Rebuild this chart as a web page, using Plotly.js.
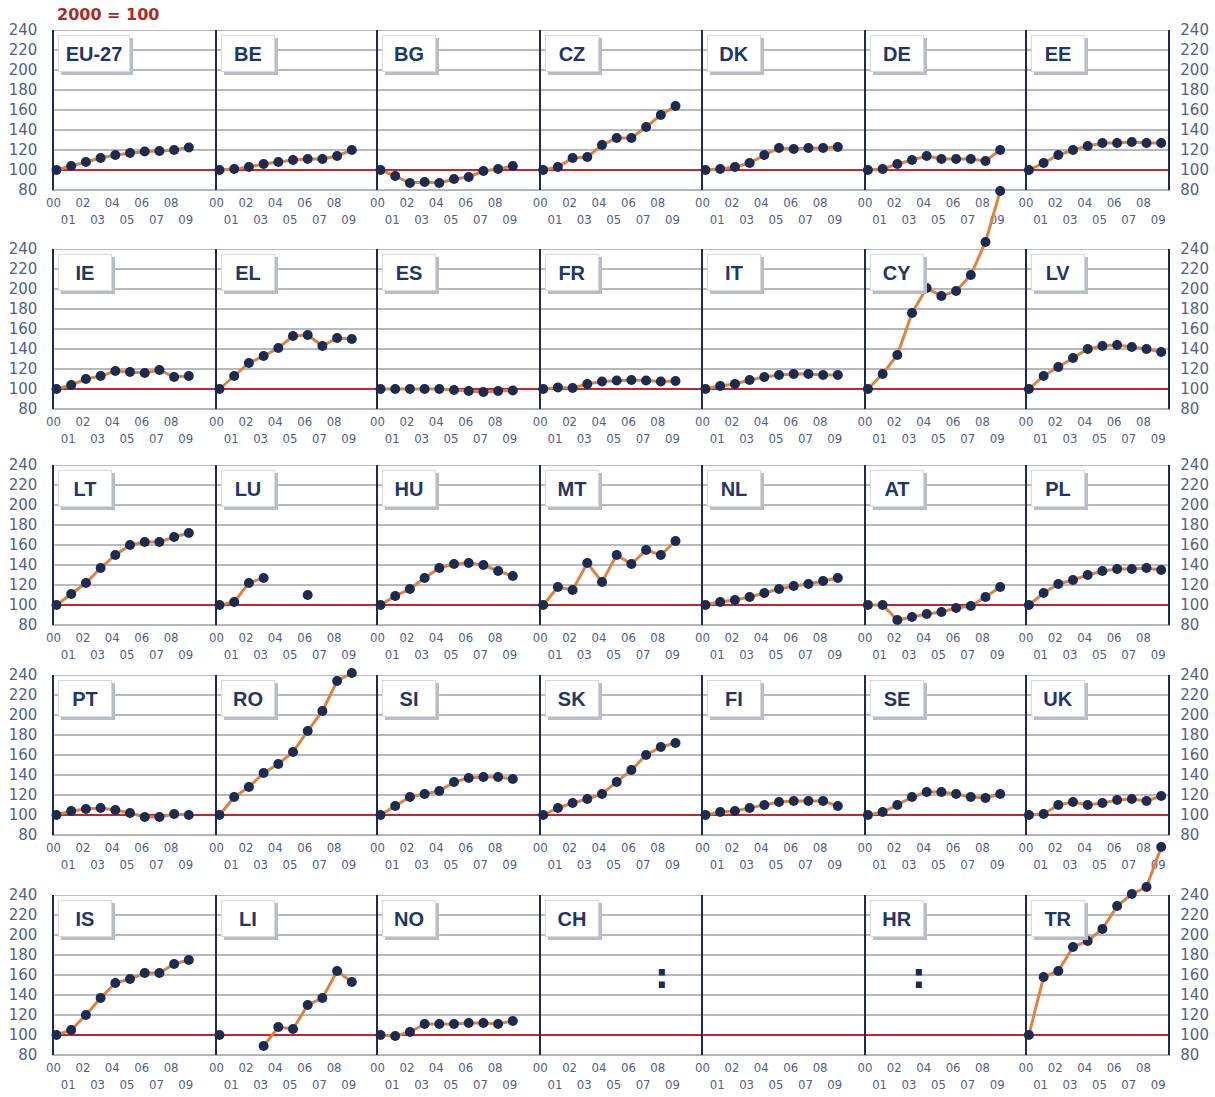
<!DOCTYPE html>
<html>
<head>
<meta charset="utf-8">
<script src="https://cdn.plot.ly/plotly-3.0.1.min.js"></script>
<style>html,body{margin:0;padding:0;background:#fff;}#chart{width:1215px;height:1097px;}</style>
</head>
<body>
<div id="chart"></div>
<script>
// ---------------- DATA ----------------
const years = [2000, 2001, 2002, 2003, 2004, 2005, 2006, 2007, 2008, 2009];
const yearLabels = ['00', '01', '02', '03', '04', '05', '06', '07', '08', '09'];
const yTicks = [80, 100, 120, 140, 160, 180, 200, 220, 240];
const baseValue = 100;

const EU27 = [100, 104, 108, 112, 115, 117, 118.5, 119, 120, 122.5];
const BE = [100, 101, 103, 106, 108, 110, 111, 111, 114, 120];
const BG = [100, 94, 87, 88, 87, 91, 93, 99, 101, 104];
const CZ = [100, 103, 112, 113, 125, 132, 132, 143, 155, 164];
const DK = [100, 101, 103, 107, 115, 122, 121, 122, 122, 123];
const DE = [100, 101, 106, 110, 114, 111, 111, 111, 109, 120];
const EE = [100, 107, 115, 120, 124, 127, 127, 128, 127, 127];

const IE = [100, 104, 110, 113, 118, 117, 116, 119, 112, 113];
const EL = [100, 113, 126, 133, 141, 153, 154, 143, 151, 150];
const ES = [100, 100, 100, 100, 100, 99, 98, 97, 98, 98.5];
const FR = [100, 101.5, 101, 105, 107.5, 108.5, 109, 108.5, 107.5, 108];
const IT = [100, 103, 105, 109, 112, 114, 115, 115, 114, 114];
const CY = [100, 115, 134, 176, 201, 193, 198, 214, 247, 298];
const LV = [100, 113, 122, 131, 140, 143, 144, 142, 140, 137];

const LT = [100, 111, 122, 137, 150, 160, 163, 163, 168, 172];
const LU = [100, 103, 122, 127, null, null, 110, null, null, null];
const HU = [100, 109, 116, 127, 137, 141, 142, 140, 134, 129];
const MT = [100, 118, 115, 142, 123, 150, 141, 155, 150, 164];
const NL = [100, 103, 105, 108, 112, 116, 119, 121, 124, 127];
const AT = [100, 100, 85, 88, 91, 93, 97, 99, 108, 118];
const PL = [100, 112, 121, 125, 130, 134, 136, 136, 137, 135];

const PT = [100, 104, 106, 107, 105, 102, 98, 98, 101, 100];
const RO = [100, 118, 128, 142, 151, 163, 184, 204, 234, 242];
const SI = [100, 109, 118, 121, 124, 133, 137, 138, 138, 136];
const SK = [100, 107, 112, 116, 121, 133, 145, 160, 168, 172];
const FI = [100, 103, 104, 107, 110, 113, 114, 114, 114, 109];
const SE = [100, 103, 110, 118, 123, 123, 121, 118, 117, 121];
const UK = [100, 101, 110, 113, 110, 112, 115, 116, 114, 119];

const IS = [100, 105, 120, 137, 152, 156, 162, 162, 171, 175];
const LI = [100, null, null, 89, 108, 106, 130, 137, 164, 153];
const NO = [100, 99, 103, 111, 111, 111, 112, 112, 111, 114];
const CH = [null, null, null, null, null, null, null, null, null, null];
const HR = [null, null, null, null, null, null, null, null, null, null];
const TR = [100, 158, 164, 188, 194, 206, 229, 241, 248, 288];

// ":" = data not available (where the mark sits in the picture)
const notAvailable = [
  {label: 'CH', year: 2008.1, value: 159},
  {label: 'HR', year: 2003.5, value: 159}
];

const panelLabels = ['EU-27','BE','BG','CZ','DK','DE','EE',
                     'IE','EL','ES','FR','IT','CY','LV',
                     'LT','LU','HU','MT','NL','AT','PL',
                     'PT','RO','SI','SK','FI','SE','UK',
                     'IS','LI','NO','CH','','HR','TR'];
const panelSeries = [EU27,BE,BG,CZ,DK,DE,EE,
                     IE,EL,ES,FR,IT,CY,LV,
                     LT,LU,HU,MT,NL,AT,PL,
                     PT,RO,SI,SK,FI,SE,UK,
                     IS,LI,NO,CH,null,HR,TR];
const titleText = '2000 = 100';

// ---------------- LAYOUT GEOMETRY (pixels) ----------------
const W = 1215, H = 1097;
const rowTops = [30, 249, 465, 675, 895];
const plotH = 160;
const colLefts = [54.3, 217.3, 378.3, 541, 703.3, 865.7, 1026.7, 1168.3];
const PXY = 14.7;        // pixels per year
const x0Year = 1999.85;
const NP = panelLabels.length;

const NAVY = '#1c2b52';
const LABEL = '#1f3767';
const ORANGE = '#e2823f';
const RED = '#c4262c';
const GRID = '#a0a2a8';
const TICKC = '#52618a';

const data = [];
const layout = {
  width: W, height: H,
  margin: {l: 0, r: 0, t: 0, b: 0},
  paper_bgcolor: '#ffffff', plot_bgcolor: 'rgba(0,0,0,0)',
  showlegend: false,
  title: {text: '<b>' + titleText + '</b>', x: 57 / W, xanchor: 'left', xref: 'paper',
          y: 1 - 14 / H, yanchor: 'middle', yref: 'paper',
          font: {family: 'DejaVu Sans, sans-serif', size: 16, color: '#b22a1e'}},
  shapes: [], annotations: []
};

const tickText = yearLabels.map((t, i) => (i % 2 === 0 ? t : '<br>' + t));
const sfxOf = k => (k === 1 ? '' : String(k));

panelLabels.forEach((lab, i) => {
  const r = Math.floor(i / 7), c = i % 7, k = i + 1;
  const sfx = sfxOf(k);
  const xid = 'x' + sfx, yid = 'y' + sfx;
  const xL = colLefts[c], xR = colLefts[c + 1];
  const xRange = [x0Year, x0Year + (xR - xL) / PXY];
  const yDom = [1 - (rowTops[r] + plotH) / H, 1 - rowTops[r] / H];

  // visible frame axes
  layout['xaxis' + sfx] = {
    domain: [xL / W, xR / W], range: xRange, anchor: yid,
    tickmode: 'array', tickvals: years, ticktext: tickText, tickangle: 0,
    ticks: '', showgrid: false, zeroline: false,
    showline: true, linecolor: '#aab3c4', linewidth: 1,
    tickfont: {family: 'Liberation Sans Narrow, DejaVu Sans Condensed, sans-serif', size: 13, color: TICKC},
    ticklabelshift: -3,
    fixedrange: true
  };
  layout['yaxis' + sfx] = {
    domain: yDom, range: [80, 240], anchor: xid,
    tickmode: 'array', tickvals: yTicks,
    ticks: '', showgrid: false, zeroline: false,
    showline: true, linecolor: NAVY, linewidth: 2,
    mirror: c === 6,
    side: c === 6 ? 'right' : 'left',
    showticklabels: c === 0 || c === 6,
    ticklabelstandoff: c === 0 ? 12 : 7,
    tickfont: {family: 'DejaVu Sans, sans-serif', size: 15, color: TICKC},
    fixedrange: true
  };
  // gridlines (drawn as shapes so the base line can sit on top of them)
  yTicks.forEach(v => {
    layout.shapes.push({type: 'line', xref: xid + ' domain', yref: yid, x0: 0, x1: 1,
      y0: v, y1: v, line: {color: GRID, width: 1.5}, layer: 'below'});
  });
  // base line 2000 = 100
  layout.shapes.push({type: 'line', xref: xid + ' domain', yref: yid, x0: 0, x1: 1,
    y0: baseValue, y1: baseValue, line: {color: RED, width: 2}, layer: 'below'});

  // data axes: same scale, area extended upward so that lines may run past the frame
  const ext = Math.min(80, rowTops[r]);
  const dk = k + NP, dsfx = sfxOf(dk);
  layout['xaxis' + dsfx] = {domain: [xL / W, xR / W], range: xRange, anchor: 'y' + dsfx,
    visible: false, fixedrange: true};
  layout['yaxis' + dsfx] = {domain: [yDom[0], 1 - (rowTops[r] - ext) / H],
    range: [80, 240 + ext * (160 / plotH)], anchor: 'x' + dsfx, visible: false, fixedrange: true};

  const vals = panelSeries[i];
  if (vals) {
    data.push({
      type: 'scatter', mode: 'lines+markers', x: years, y: vals,
      xaxis: 'x' + dsfx, yaxis: 'y' + dsfx, cliponaxis: false, connectgaps: false,
      line: {color: ORANGE, width: 3},
      marker: {color: NAVY, size: 10},
      hoverinfo: 'skip'
    });
  }
  if (lab) {
    const w = (xR - xL);
    const common = {
      xref: xid + ' domain', yref: yid + ' domain',
      x: 4 / w, y: 1 - 5 / plotH, xanchor: 'left', yanchor: 'top',
      showarrow: false,
      width: lab.length > 3 ? 58 : 40, height: 23, borderpad: 6, align: 'center'
    };
    // box shadow (no text)
    layout.annotations.push(Object.assign({}, common, {
      text: '&nbsp;', xshift: 3, yshift: -3,
      bgcolor: '#b9bdc7', bordercolor: '#b9bdc7', borderwidth: 1,
      font: {family: 'Liberation Sans, Arial, sans-serif', size: 20, color: '#b9bdc7'}
    }));
    layout.annotations.push(Object.assign({}, common, {
      text: '<b>' + lab + '</b>',
      bgcolor: '#ffffff', bordercolor: '#d6d9e0', borderwidth: 1,
      font: {family: 'Liberation Sans, Arial, sans-serif', size: 20, color: LABEL}
    }));
  }
});

notAvailable.forEach(na => {
  const k = panelLabels.indexOf(na.label) + 1;
  const sfx = sfxOf(k);
  layout.annotations.push({
    xref: 'x' + sfx, yref: 'y' + sfx, x: na.year, y: na.value,
    text: '<b>:</b>', showarrow: false, xanchor: 'center', yanchor: 'middle',
    font: {family: 'DejaVu Sans, sans-serif', size: 34, color: NAVY}
  });
});

Plotly.newPlot('chart', data, layout, {displayModeBar: false, staticPlot: true});
</script>
</body>
</html>
